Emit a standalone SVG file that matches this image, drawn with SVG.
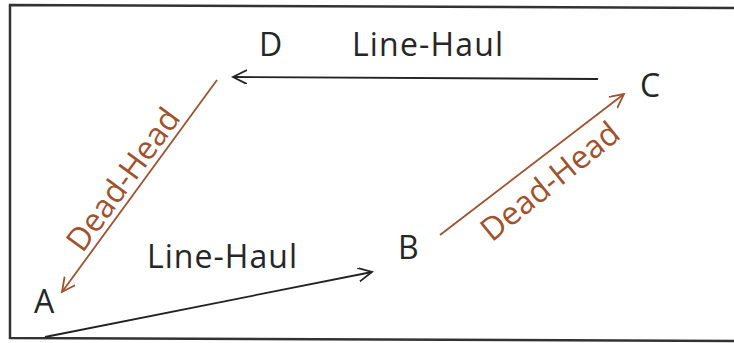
<svg xmlns="http://www.w3.org/2000/svg" width="734" height="343" viewBox="0 0 734 343">
<defs>
<marker id="ak" markerUnits="userSpaceOnUse" markerWidth="20" markerHeight="20" refX="14" refY="7" orient="auto">
<path d="M0,0 L14,7 L0,14" fill="none" stroke="#222" stroke-width="1.8"/>
</marker>
<marker id="ab" markerUnits="userSpaceOnUse" markerWidth="20" markerHeight="20" refX="14" refY="7" orient="auto">
<path d="M0,0 L14,7 L0,14" fill="none" stroke="#a0522d" stroke-width="1.8"/>
</marker>
</defs>
<style>
.lbl{font-family:"Open Sans","Liberation Sans",sans-serif;font-size:32px;fill:#262626}
.dh{font-family:"Open Sans","Liberation Sans",sans-serif;font-size:32px;fill:#a0522d}
.lh{stroke:#222;stroke-width:1.8;fill:none}
.dd{stroke:#a0522d;stroke-width:1.8;fill:none}
</style>
<rect width="734" height="343" fill="#fff"/>
<path d="M734,8 L10,5 L10,338 L734,341" fill="none" stroke="#333" stroke-width="2.5"/>
<g id="connectors">
<line class="lh" x1="598" y1="79" x2="233" y2="77" marker-end="url(#ak)"/>
<line class="lh" x1="45" y1="337" x2="372" y2="272" marker-end="url(#ak)"/>
<line class="dd" x1="217" y1="80" x2="62" y2="292" marker-end="url(#ab)"/>
<line class="dd" x1="440" y1="235" x2="624" y2="94" marker-end="url(#ab)"/>
<text class="lbl" x="352" y="56" textLength="151">Line-Haul</text>
<text class="lbl" x="147" y="268" textLength="150">Line-Haul</text>
<text class="dh" text-anchor="middle" transform="translate(132,186) rotate(-53.8)">Dead-Head</text>
<text class="dh" text-anchor="middle" transform="translate(557,190) rotate(-39)">Dead-Head</text>
</g>
<g id="node-D"><text class="lbl" x="259" y="56">D</text></g>
<g id="node-C"><text class="lbl" x="640" y="97">C</text></g>
<g id="node-B"><text class="lbl" x="398" y="259">B</text></g>
<g id="node-A"><text class="lbl" x="34" y="313">A</text></g>
</svg>
